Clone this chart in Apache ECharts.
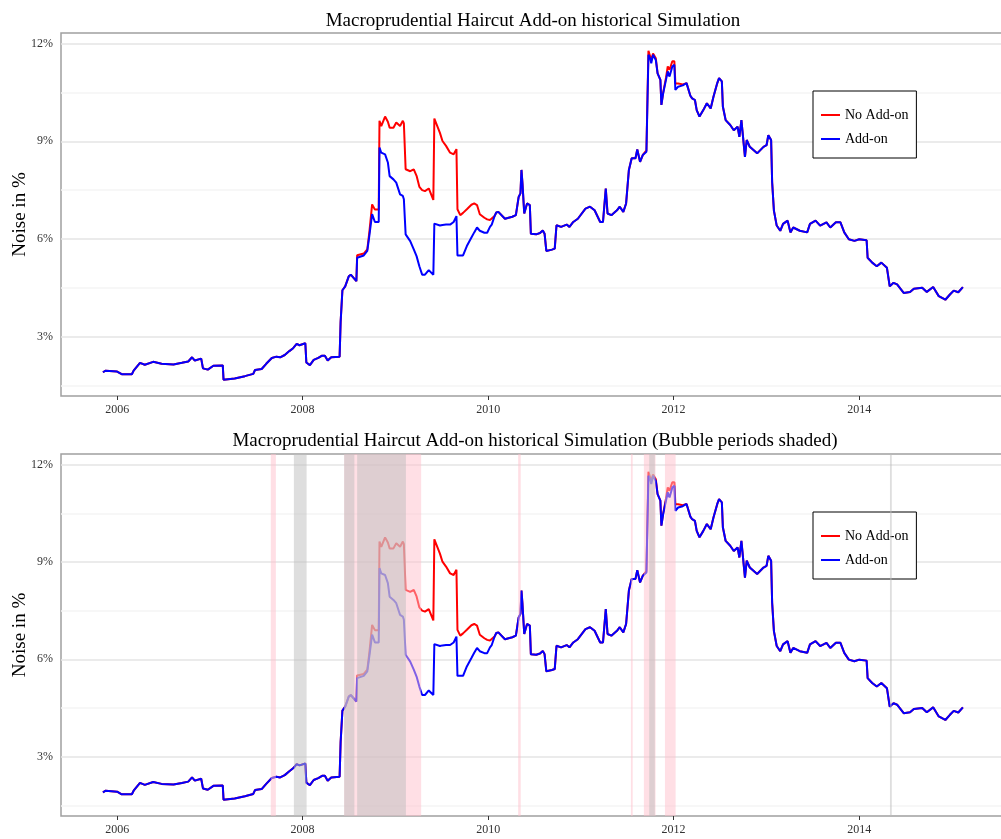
<!DOCTYPE html>
<html><head><meta charset="utf-8">
<script src="https://cdn.jsdelivr.net/npm/echarts@6/dist/echarts.min.js"></script>
<style>html,body{margin:0;padding:0;background:#fff}#c{width:1001px;height:839px}</style>
</head><body><div id="c"></div>
<script>
const titleTop = 'Macroprudential Haircut Add-on historical Simulation';
const titleBottom = 'Macroprudential Haircut Add-on historical Simulation (Bubble periods shaded)';
const seriesNames = ['No Add-on', 'Add-on'];
const yAxisName = 'Noise in %';

const dates = ['2005-11-06','2005-11-17','2006-01-01','2006-01-19','2006-02-28','2006-03-07','2006-04-01','2006-04-20','2006-05-23','2006-06-25',
'2006-08-11','2006-09-13','2006-10-08','2006-10-23','2006-11-03','2006-11-28','2006-12-05','2006-12-24','2007-01-15','2007-02-21',
'2007-02-24','2007-04-09','2007-05-19','2007-06-21','2007-06-28','2007-07-24','2007-08-11','2007-09-02','2007-09-20','2007-10-05',
'2007-10-23','2007-11-10','2007-11-25','2007-12-09','2007-12-20','2008-01-12','2008-01-16','2008-01-30','2008-02-14','2008-03-03',
'2008-03-18','2008-03-29','2008-04-09','2008-04-23','2008-05-26','2008-05-30','2008-06-06','2008-06-17','2008-07-01','2008-07-09',
'2008-07-31','2008-08-03','2008-08-29','2008-09-12','2008-09-20','2008-10-01','2008-10-05','2008-10-12','2008-10-27','2008-10-30',
'2008-11-06','2008-11-21','2008-12-02','2008-12-09','2008-12-24','2009-01-04','2009-01-19','2009-01-30','2009-02-03','2009-02-10',
'2009-02-28','2009-03-14','2009-03-25','2009-04-05','2009-04-16','2009-04-27','2009-05-12','2009-05-30','2009-06-03','2009-06-25',
'2009-07-05','2009-07-19','2009-08-04','2009-08-18','2009-08-29','2009-09-02','2009-09-13','2009-09-24','2009-10-09','2009-10-27',
'2009-11-07','2009-11-18','2009-11-29','2009-12-06','2009-12-17','2009-12-28','2010-01-08','2010-01-15','2010-01-26','2010-02-02',
'2010-02-10','2010-03-08','2010-04-06','2010-04-20','2010-05-01','2010-05-08','2010-05-12','2010-05-16','2010-05-23','2010-06-03',
'2010-06-14','2010-06-18','2010-07-09','2010-07-24','2010-08-04','2010-08-11','2010-08-18','2010-09-09','2010-09-20','2010-09-27',
'2010-10-15','2010-11-06','2010-11-17','2010-12-02','2010-12-20','2011-01-19','2011-02-06','2011-02-24','2011-03-18','2011-03-29',
'2011-04-09','2011-04-16','2011-05-01','2011-05-23','2011-06-03','2011-06-17','2011-06-28','2011-07-09','2011-07-20','2011-08-04',
'2011-08-11','2011-08-22','2011-09-02','2011-09-16','2011-09-20','2011-09-24','2011-10-01','2011-10-05','2011-10-12','2011-10-23',
'2011-10-30','2011-11-10','2011-11-14','2011-11-21','2011-12-02','2011-12-09','2011-12-16','2011-12-27','2012-01-04','2012-01-08',
'2012-01-19','2012-02-06','2012-02-21','2012-03-07','2012-03-14','2012-03-25','2012-04-01','2012-04-12','2012-04-27','2012-05-11',
'2012-05-26','2012-06-06','2012-06-21','2012-06-28','2012-07-09','2012-07-13','2012-07-24','2012-08-11','2012-08-25','2012-09-09',
'2012-09-16','2012-09-24','2012-10-01','2012-10-08','2012-10-15','2012-10-27','2012-11-25','2012-12-20','2013-01-01','2013-01-08',
'2013-01-19','2013-01-23','2013-01-30','2013-02-10','2013-02-24','2013-03-07','2013-03-25','2013-04-05','2013-04-16','2013-05-12',
'2013-06-10','2013-06-21','2013-07-13','2013-07-31','2013-08-25','2013-09-09','2013-10-01','2013-10-19','2013-11-03','2013-11-21',
'2013-12-13','2014-01-01','2014-01-30','2014-02-03','2014-02-21','2014-03-11','2014-03-29','2014-04-20','2014-05-01','2014-05-16',
'2014-05-30','2014-06-25','2014-07-20','2014-08-04','2014-09-06','2014-09-24','2014-10-19','2014-11-10','2014-12-06','2014-12-24',
'2015-01-08','2015-01-26','2015-02-13'];

const addOn = [1.90,1.95,1.92,1.84,1.84,1.95,2.19,2.13,2.22,2.16,
2.14,2.19,2.23,2.36,2.26,2.32,2.02,1.98,2.10,2.11,
1.67,1.71,1.78,1.85,1.97,2.00,2.16,2.34,2.38,2.36,
2.43,2.55,2.64,2.77,2.73,2.79,2.20,2.12,2.28,2.34,
2.41,2.41,2.26,2.36,2.38,3.45,4.42,4.54,4.85,4.90,
4.70,5.42,5.49,5.63,6.09,6.76,6.81,6.52,6.52,8.81,
8.65,8.60,8.35,7.93,7.83,7.73,7.37,7.32,7.22,6.14,
5.93,5.68,5.47,5.16,4.90,4.90,5.04,4.90,6.47,6.41,
6.43,6.44,6.44,6.52,6.70,5.49,5.49,5.49,5.78,6.04,
6.20,6.35,6.25,6.19,6.19,6.19,6.37,6.44,6.70,6.81,
6.83,6.62,6.68,6.73,7.29,7.40,8.12,7.70,6.78,7.09,
7.04,6.16,6.14,6.18,6.26,6.16,5.63,5.67,5.70,6.42,
6.37,6.44,6.37,6.52,6.62,6.93,6.99,6.88,6.52,6.52,
7.55,6.78,6.73,6.88,6.99,6.83,7.09,8.12,8.48,8.48,
8.75,8.37,8.58,8.68,10.17,11.66,11.55,11.40,11.66,11.50,
11.09,10.89,10.12,10.48,10.89,11.15,10.99,11.30,11.35,10.58,
10.68,10.72,10.79,10.40,10.32,10.27,9.96,9.76,9.96,10.17,
10.01,10.37,10.79,10.94,10.84,10.07,9.65,9.50,9.34,9.45,
9.14,9.65,9.65,8.52,9.04,8.83,8.63,8.83,8.88,9.19,
9.04,7.75,6.87,6.41,6.25,6.46,6.56,6.20,6.35,6.25,
6.20,6.46,6.56,6.41,6.51,6.35,6.51,6.51,6.20,5.99,
5.94,5.99,5.96,5.42,5.27,5.16,5.27,5.11,4.54,4.65,
4.60,4.34,4.37,4.47,4.50,4.37,4.52,4.24,4.13,4.29,
4.41,4.36,4.52];

const noAddOn = [1.90,1.95,1.92,1.84,1.84,1.95,2.19,2.13,2.22,2.16,
2.14,2.19,2.23,2.36,2.26,2.32,2.02,1.98,2.10,2.11,
1.67,1.71,1.78,1.85,1.97,2.00,2.16,2.34,2.38,2.36,
2.43,2.55,2.64,2.77,2.73,2.79,2.20,2.12,2.28,2.34,
2.41,2.41,2.26,2.36,2.38,3.45,4.42,4.54,4.85,4.90,
4.70,5.50,5.55,5.68,6.20,7.06,7.10,6.90,6.90,9.63,
9.47,9.76,9.60,9.42,9.42,9.58,9.47,9.63,9.55,8.14,
8.08,8.14,7.94,7.60,7.50,7.47,7.55,7.20,9.70,9.26,
9.01,8.86,8.65,8.60,8.76,6.91,6.73,6.80,6.91,7.05,
7.09,7.04,6.76,6.70,6.65,6.60,6.58,6.58,6.70,6.81,
6.83,6.62,6.68,6.73,7.29,7.40,8.12,7.70,6.78,7.09,
7.04,6.16,6.14,6.18,6.26,6.16,5.63,5.67,5.70,6.42,
6.37,6.44,6.37,6.52,6.62,6.93,6.99,6.88,6.52,6.52,
7.55,6.78,6.73,6.88,6.99,6.83,7.09,8.12,8.48,8.48,
8.75,8.37,8.58,8.72,10.30,11.78,11.72,11.50,11.70,11.55,
11.09,10.89,10.12,10.50,10.95,11.30,11.20,11.46,11.46,10.78,
10.78,10.75,10.79,10.40,10.32,10.27,9.96,9.76,9.96,10.17,
10.01,10.37,10.79,10.94,10.84,10.07,9.65,9.50,9.34,9.45,
9.14,9.65,9.65,8.52,9.04,8.83,8.63,8.83,8.88,9.19,
9.04,7.75,6.87,6.41,6.25,6.46,6.56,6.20,6.35,6.25,
6.20,6.46,6.56,6.41,6.51,6.35,6.51,6.51,6.20,5.99,
5.94,5.99,5.96,5.42,5.27,5.16,5.27,5.11,4.54,4.65,
4.60,4.34,4.37,4.47,4.50,4.37,4.52,4.24,4.13,4.29,
4.41,4.36,4.52];

// Bubble periods (shaded)
const pinkBands = [['2007-08-29','2007-09-18'],['2008-06-13','2009-04-12'],['2010-04-29','2010-05-09'],
  ['2011-07-17','2011-07-24'],['2011-09-06','2011-10-22'],['2011-11-28','2012-01-09']];
const grayBands = [['2007-11-28','2008-01-17'],['2008-06-13','2008-07-23'],['2008-08-03','2009-02-11'],
  ['2011-09-27','2011-10-19'],['2014-05-02','2014-05-09']];

const xTickYears = [2006, 2008, 2010, 2012, 2014];
const yTickLabels = [3, 6, 9, 12];
const yGridValues = [1.5, 3, 4.5, 6, 7.5, 9, 10.5, 12];

const FONT = 'Liberation Serif';
function ts(s) { const p = s.split('-').map(Number); return Date.UTC(p[0], p[1] - 1, p[2]); }
const xMin = ts('2005-05-25');
const xMax = ts('2015-07-21');
const yMin = 1.17, yMax = 12.33;
const xTicks = xTickYears.map(y => Date.UTC(y, 0, 1));

const redPairs = dates.map((d, i) => [ts(d), noAddOn[i]]);
const bluePairs = dates.map((d, i) => [ts(d), addOn[i]]);

const grids = [
  {left: 61, top: 33, width: 942, height: 363},
  {left: 61, top: 454, width: 942, height: 362}
];

function xAxisFor(i) {
  return {
    type: 'value', gridIndex: i, min: xMin, max: xMax,
    axisLine: {show: false},
    axisTick: {show: true, length: 4, customValues: xTicks, lineStyle: {color: '#333', width: 1}},
    axisLabel: {customValues: xTicks, formatter: v => String(new Date(v).getUTCFullYear()),
      color: '#333', fontFamily: FONT, fontSize: 12, margin: 8},
    splitLine: {show: false}
  };
}
function yAxesFor(i) {
  return [{
    type: 'value', gridIndex: i, min: yMin, max: yMax,
    axisLine: {show: false},
    axisTick: {show: false, customValues: yGridValues},
    axisLabel: {customValues: yTickLabels, formatter: '{value}%', color: '#333',
      fontFamily: FONT, fontSize: 12, margin: 8},
    splitLine: {show: true, lineStyle: {color: ['#f5f5f5', '#e5e5e5'], width: 1.5}},
    name: yAxisName, nameLocation: 'middle', nameGap: 31, nameRotate: 90, nameMoveOverlap: false,
    nameTextStyle: {fontFamily: FONT, fontSize: 19, color: '#000'}
  }, {
    type: 'value', gridIndex: i, min: yMin, max: yMax,
    axisLine: {show: false},
    axisTick: {show: true, length: 4, customValues: yTickLabels, lineStyle: {color: '#333'}},
    axisLabel: {show: false},
    splitLine: {show: false}
  }];
}
function legendFor(top) {
  return {
    data: seriesNames, orient: 'vertical', left: 813, top: top,
    padding: [17, 8, 12, 8], itemGap: 10, itemWidth: 19, itemHeight: 2, icon: 'rect',
    borderColor: '#000', borderWidth: 1, backgroundColor: '#fff', selectedMode: false,
    textStyle: {fontFamily: FONT, fontSize: 14, color: '#000'}
  };
}
function lineSeries(name, data, color, xi, yi) {
  return {type: 'line', name: name, xAxisIndex: xi, yAxisIndex: yi, data: data,
    showSymbol: false, symbol: 'none', lineStyle: {color: color, width: 2}, itemStyle: {color: color}};
}

const chart = echarts.init(document.getElementById('c'), null, {renderer: 'canvas'});
chart.setOption({
  animation: false,
  backgroundColor: '#fff',
  title: [
    {text: titleTop, left: 528, top: 7, textAlign: 'center',
      textStyle: {fontFamily: FONT, fontSize: 19, fontWeight: 'normal', color: '#000'}},
    {text: titleBottom, left: 530, top: 427, textAlign: 'center',
      textStyle: {fontFamily: FONT, fontSize: 19, fontWeight: 'normal', color: '#000'}}
  ],
  grid: grids.map(g => Object.assign({show: true, borderColor: '#a0a0a0', borderWidth: 1.5,
    backgroundColor: 'transparent', containLabel: false, outerBoundsMode: 'none'}, g)),
  xAxis: [xAxisFor(0), xAxisFor(1)],
  yAxis: yAxesFor(0).concat(yAxesFor(1)),
  legend: [legendFor(91), legendFor(512)],
  series: [
    lineSeries(seriesNames[0], redPairs, '#ff0000', 0, 0),
    lineSeries(seriesNames[1], bluePairs, '#0000ff', 0, 0),
    lineSeries(seriesNames[0], redPairs, '#ff0000', 1, 2),
    lineSeries(seriesNames[1], bluePairs, '#0000ff', 1, 2),
    {type: 'line', name: 'pinkBands', xAxisIndex: 1, yAxisIndex: 2, data: [],
      markArea: {silent: true, z: 10, itemStyle: {color: 'rgba(255,192,203,0.5)'},
        data: pinkBands.map(b => [{xAxis: ts(b[0])}, {xAxis: ts(b[1])}])}},
    {type: 'line', name: 'grayBands', xAxisIndex: 1, yAxisIndex: 2, data: [],
      markArea: {silent: true, z: 11, itemStyle: {color: 'rgba(190,190,190,0.5)'},
        data: grayBands.map(b => [{xAxis: ts(b[0])}, {xAxis: ts(b[1])}])}}
  ]
});
</script></body></html>
